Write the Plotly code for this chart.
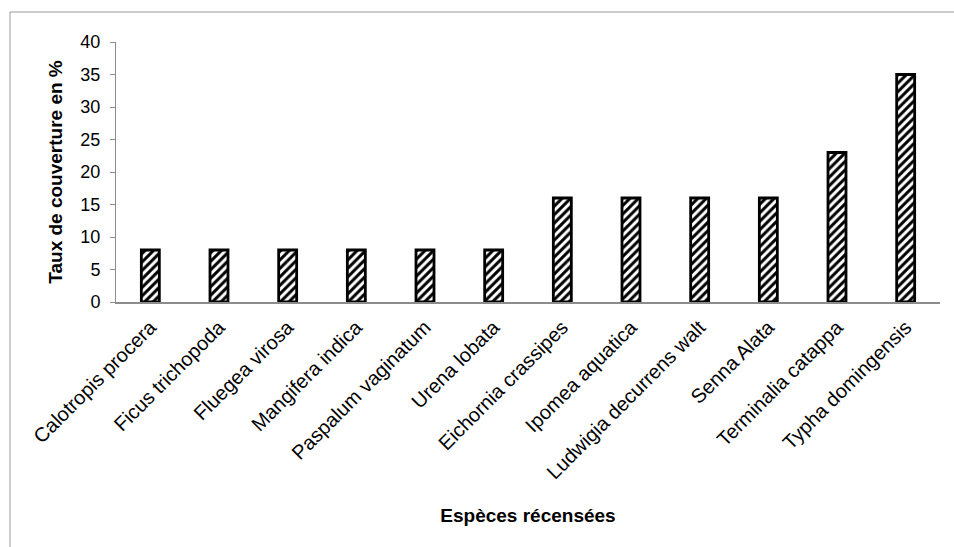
import plotly.graph_objects as go

# Species recorded and their coverage rate (%)
especes = [
    "Calotropis procera", "Ficus trichopoda", "Fluegea virosa", "Mangifera indica",
    "Paspalum vaginatum", "Urena lobata", "Eichornia crassipes", "Ipomea aquatica",
    "Ludwigia decurrens walt", "Senna Alata", "Terminalia catappa", "Typha domingensis",
]
taux = [8, 8, 8, 8, 8, 8, 16, 16, 16, 16, 23, 35]
y_ticks = [0, 5, 10, 15, 20, 25, 30, 35, 40]

FONT = "Liberation Sans, Arial, sans-serif"
W, H = 954, 547
ML, MR, MT, MB = 116, 14, 42, 245

fig = go.Figure(
    go.Bar(
        x=especes,
        y=taux,
        marker=dict(
            color="white",
            line=dict(color="black", width=2.8),
            pattern=dict(shape="/", fgcolor="black", bgcolor="white",
                         size=6, solidity=0.5, fillmode="replace"),
        ),
        showlegend=False,
    )
)

# thin grey frame around the chart area
pw, ph = W - ML - MR, H - MT - MB
fig.add_shape(
    type="rect", xref="paper", yref="paper",
    x0=(10 - ML) / pw, x1=(W + 10 - ML) / pw,
    y0=-(MB + 10) / ph, y1=1 + (MT - 12) / ph,
    line=dict(color="#9a9a9a", width=1), fillcolor="rgba(0,0,0,0)",
    layer="below",
)

fig.update_layout(
    width=W, height=H,
    margin=dict(l=ML, r=MR, t=MT, b=MB),
    paper_bgcolor="white", plot_bgcolor="white",
    bargap=0.738,
    font=dict(family=FONT, color="black"),
    xaxis=dict(
        tickangle=-45,
        tickfont=dict(size=20, family=FONT),
        ticklabelstandoff=4,
        showline=True, linecolor="#8c8c8c", linewidth=1.5,
        ticks="", showgrid=False,
        title=dict(text="<b>Espèces récensées</b>", font=dict(size=19, family=FONT),
                   standoff=26),
    ),
    yaxis=dict(
        range=[0, 40],
        tickvals=y_ticks,
        tickfont=dict(size=18, family=FONT),
        ticklabelstandoff=6,
        showline=True, linecolor="#8c8c8c", linewidth=1,
        ticks="outside", ticklen=5, tickcolor="#8c8c8c",
        showgrid=False, zeroline=False,
        title=dict(text="<b>Taux de couverture en %</b>", font=dict(size=19, family=FONT),
                   standoff=12),
    ),
)

fig.write_html("out.html")
